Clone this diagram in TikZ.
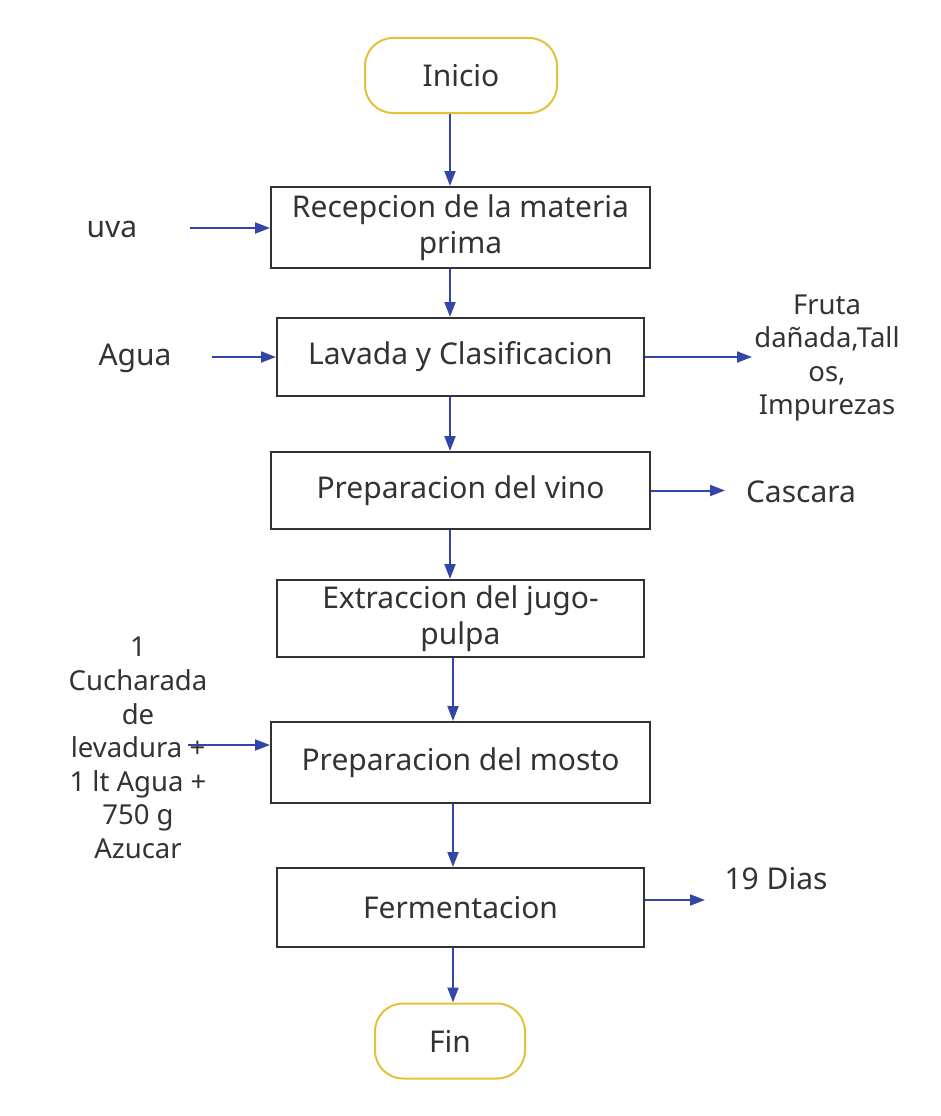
\documentclass[tikz,border=0pt]{standalone}
\usepackage{fontspec}
\setmainfont{Noto Sans}
\usetikzlibrary{arrows.meta,calc}
\definecolor{boxc}{HTML}{333333}
\definecolor{txt}{HTML}{333333}
\definecolor{arrc}{HTML}{3346A8}
\definecolor{term}{HTML}{E3C23A}
\begin{document}
\begin{tikzpicture}[x=1pt,y=-1pt,
  every node/.style={text=txt, font=\fontsize{30}{36}\selectfont, inner sep=0pt, align=center},
  procbox/.style={draw=boxc, line width=2pt, minimum height=79},
  wide/.style={procbox, minimum width=379},
  narrow/.style={procbox, minimum width=367},
  termbox/.style={draw=term, line width=2pt, rounded corners=28pt, minimum height=75},
  side/.style={font=\fontsize{27.5}{33.6}\selectfont},
  arr/.style={draw=arrc, line width=2pt, -{Triangle[length=15pt,width=11pt]}}
]
\useasboundingbox (0,0) rectangle (940,1116);
\node[termbox, minimum width=192] (inicio) at (461,75.5) {Inicio};
\node[wide, minimum height=81] (recep) at (460.5,227.5) {Recepcion de la materia\\prima};
\node[narrow, minimum height=78] (lavada) at (460.5,357) {Lavada y Clasificacion};
\node[wide, minimum height=77] (vino) at (460.5,490.5) {Preparacion del vino};
\node[narrow, minimum height=77] (extr) at (460.5,618.5) {Extraccion del jugo-\\pulpa};
\node[wide, minimum height=81] (mosto) at (460.5,762.5) {Preparacion del mosto};
\node[narrow, minimum height=79] (ferm) at (460.5,907.5) {Fermentacion};
\node[termbox, minimum width=150] (fin) at (450,1041) {Fin};

\node (uva) at (112,229) {uva};
\node (agua) at (135,358) {Agua};
\node[side] (fruta) at (827,358) {Fruta\\dañada,Tall\\os,\\Impurezas};
\node (cascara) at (801,492) {Cascara};
\node[side] (lev) at (138,748) {1\\Cucharada\\de\\levadura +\\1 lt Agua +\\750 g\\Azucar};
\node (dias) at (776,879) {19 Dias};

\coordinate (uvaend) at (190,228);
\coordinate (aguaend) at (212,357);
\coordinate (levend) at (188,745);

\draw[arr] ([xshift=-11]inicio.south) -- ([xshift=-10.5]recep.north);
\draw[arr] ([xshift=-10.5]recep.south) -- ([xshift=-10.5]lavada.north);
\draw[arr] ([xshift=-10.5]lavada.south) -- ([xshift=-10.5]vino.north);
\draw[arr] ([xshift=-10.5]vino.south) -- ([xshift=-10.5]extr.north);
\draw[arr] ([xshift=-7.5]extr.south) -- ([xshift=-7.5]mosto.north);
\draw[arr] ([xshift=-7.5]mosto.south) -- ([xshift=-7.5]ferm.north);
\draw[arr] ([xshift=-7.5]ferm.south) -- ([xshift=3]fin.north);

\draw[arr] (uvaend) -- (uvaend -| recep.west);
\draw[arr] (aguaend) -- (aguaend -| lavada.west);
\draw[arr] (levend) -- (levend -| mosto.west);
\draw[arr] (lavada.east) -- (752,357);
\draw[arr] (vino.east) -- (725,490.5);
\draw[arr] ([yshift=7.5]ferm.east) -- ([yshift=7.5]ferm.east -| 705,0);
\end{tikzpicture}
\end{document}
